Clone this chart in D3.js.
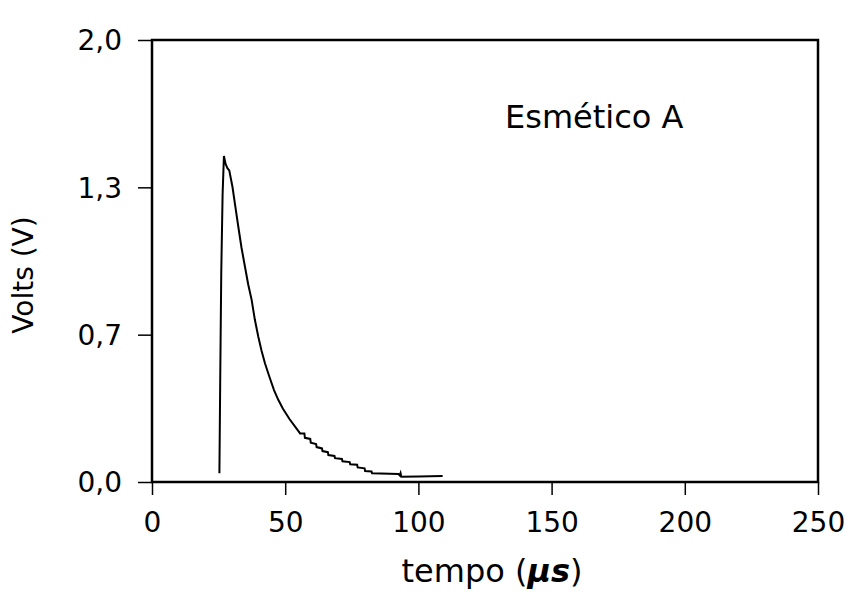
<!DOCTYPE html>
<html>
<head>
<meta charset="utf-8">
<script src="https://cdn.jsdelivr.net/npm/d3@7"></script>
<style>
  body { margin: 0; background: #fff; }
  text { font-family: "DejaVu Sans", sans-serif; fill: #000; }
</style>
</head>
<body>
<div id="chart"></div>
<script>
// signal (tail is stepwise in the original)
const tempo = [25.3, 25.6, 26.0, 26.5, 27.0, 27.6, 28.3, 29.0, 30.2, 31.3, 32.4, 33.6, 34.9, 36.1, 37.4, 38.6, 39.9, 41.1,
  42.4, 44.1, 45.8, 47.4, 49.1, 51.6, 54.2, 55.6, 57.2, 57.4, 59.4, 59.6, 61.6, 61.8, 63.8, 64.0, 66.0, 66.2, 68.5,
  68.7, 71.3, 71.5, 74.2, 74.4, 77.0, 77.2, 79.8, 80.0, 82.4, 82.6, 92.5, 93.0, 93.3, 93.6, 100.0, 109.1];
const volts = [0.04, 0.45, 0.95, 1.30, 1.475, 1.44, 1.42, 1.41, 1.336, 1.245, 1.155, 1.06, 0.974, 0.895, 0.824, 0.735, 0.657, 0.595,
  0.537, 0.475, 0.416, 0.372, 0.333, 0.285, 0.243, 0.22, 0.22, 0.20, 0.195, 0.178, 0.172, 0.158, 0.152, 0.140, 0.135, 0.122, 0.118,
  0.108, 0.104, 0.094, 0.090, 0.080, 0.078, 0.066, 0.062, 0.050, 0.048, 0.040, 0.036, 0.030, 0.040, 0.024, 0.025, 0.027];
const xTicks = [0, 50, 100, 150, 200, 250];
const yTicks = [0, 2 / 3, 4 / 3, 2];

const width = 846, height = 597;
const margin = {top: 40, right: 28, bottom: 115, left: 152};

const svg = d3.select("#chart")
  .append("svg")
  .attr("width", width)
  .attr("height", height);

const xScale = d3.scaleLinear()
  .domain([0, 250])
  .range([margin.left, width - margin.right]);

const yScale = d3.scaleLinear()
  .domain([0, 2])
  .range([height - margin.bottom, margin.top]);

const xAxis = d3.axisBottom(xScale).tickValues(xTicks).tickSize(13).tickPadding(12).tickSizeOuter(0);
const yAxis = d3.axisLeft(yScale).tickValues(yTicks).tickSize(14).tickPadding(16).tickSizeOuter(0)
  .tickFormat(d => d3.format(".1f")(d).replace(".", ","));

const gx = svg.append("g")
  .attr("transform", "translate(0," + (height - margin.bottom) + ")")
  .call(xAxis);
const gy = svg.append("g")
  .attr("transform", "translate(" + margin.left + ",0)")
  .call(yAxis);

[gx, gy].forEach(g => {
  g.select(".domain").remove();
  g.selectAll("line").attr("stroke", "#000").attr("stroke-width", 1.5);
  g.selectAll("text").attr("font-size", 28).attr("font-family", "DejaVu Sans").attr("fill", "#000");
});
gx.selectAll("text").attr("dy", "0.9em");
gy.selectAll("text").attr("dy", "0.35em");

// frame
svg.append("rect")
  .attr("x", xScale(0))
  .attr("y", yScale(2))
  .attr("width", xScale(250) - xScale(0))
  .attr("height", yScale(0) - yScale(2))
  .attr("fill", "none")
  .attr("stroke", "#000")
  .attr("stroke-width", 2.5);

const line = d3.line()
  .x((d, i) => xScale(tempo[i]))
  .y(d => yScale(d));

svg.append("path")
  .datum(volts)
  .attr("d", line)
  .attr("fill", "none")
  .attr("stroke", "#000")
  .attr("stroke-width", 2);

svg.append("text")
  .attr("x", 505)
  .attr("y", 128)
  .attr("font-size", 32)
  .text("Esmético A");

svg.append("text")
  .attr("transform", "translate(33,275) rotate(-90)")
  .attr("text-anchor", "middle")
  .attr("font-size", 28)
  .text("Volts (V)");

const xt = svg.append("text")
  .attr("x", 492)
  .attr("y", 582)
  .attr("text-anchor", "middle")
  .attr("font-size", 32);
xt.append("tspan").text("tempo (");
xt.append("tspan").attr("font-style", "italic").attr("font-weight", "bold").text("µs");
xt.append("tspan").text(")");
</script>
</body>
</html>
